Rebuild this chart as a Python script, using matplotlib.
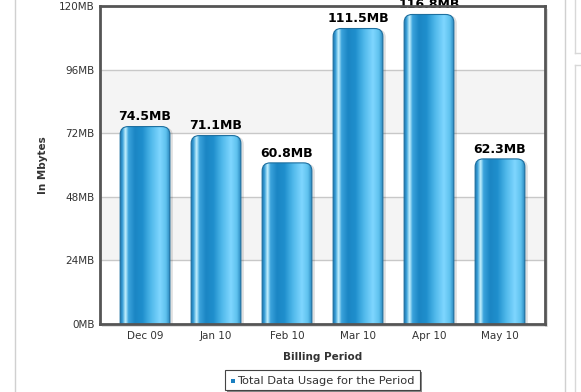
import matplotlib
matplotlib.use("Agg")
import matplotlib.pyplot as plt
import numpy as np
from matplotlib.patches import FancyBboxPatch, Rectangle
from matplotlib.colors import LinearSegmentedColormap
from matplotlib.lines import Line2D

categories = ["Dec 09", "Jan 10", "Feb 10", "Mar 10", "Apr 10", "May 10"]
values = [74.5, 71.1, 60.8, 111.5, 116.8, 62.3]
yticks = [0, 24, 48, 72, 96, 120]
ytick_labels = ["0MB", "24MB", "48MB", "72MB", "96MB", "120MB"]

W, H = 581, 392
fig = plt.figure(figsize=(W / 100, H / 100), dpi=100)
fig.patch.set_facecolor("white")

L, R, T, B = 100, 545, 6, 324
ax = fig.add_axes([L / W, 1 - B / H, (R - L) / W, (B - T) / H])
ax.set_xlim(-0.634, 5.634)
ax.set_ylim(0, 120)

# alternating bands
for i in range(len(yticks) - 1):
    if i % 2 == 1:
        ax.axhspan(yticks[i], yticks[i + 1], color="#f4f4f4", zorder=0, lw=0)
for y in yticks[1:-1]:
    ax.axhline(y, color="#c8c8c8", lw=1, zorder=0.5)

bar_w = 0.70
bars = ax.bar(range(len(categories)), values, width=bar_w, color="none", edgecolor="none", zorder=2)

cmap = LinearSegmentedColormap.from_list("cyl", [
    (0.00, "#1a73ad"), (0.05, "#3aa0d8"), (0.11, "#c6f2ff"), (0.17, "#3ba3dc"),
    (0.30, "#1b86c4"), (0.45, "#1f8fcd"), (0.62, "#4fb8ea"), (0.80, "#7fd6ff"),
    (0.92, "#5fc2ee"), (1.00, "#2a88bf")])
grad = np.linspace(0, 1, 256).reshape(1, -1)

xunit_px = (R - L) / (5.634 + 0.634)
yunit_px = (B - T) / 120.0
aspect = xunit_px / yunit_px
rs = 8 / xunit_px

for rect in bars:
    x0, w, h = rect.get_x(), rect.get_width(), rect.get_height()
    # shadow
    sh = FancyBboxPatch((x0 + 3 / xunit_px, -10), w, h + 10 - 1 / yunit_px,
                        boxstyle=f"round,pad=0,rounding_size={rs}", mutation_aspect=aspect,
                        facecolor="#000000", alpha=0.12, edgecolor="none", zorder=1.5)
    ax.add_patch(sh)
    patch = FancyBboxPatch((x0, -10), w, h + 10,
                           boxstyle=f"round,pad=0,rounding_size={rs}", mutation_aspect=aspect,
                           facecolor="none", edgecolor="#1d6f9f", lw=0.8, zorder=2.5)
    ax.add_patch(patch)
    im = ax.imshow(grad, cmap=cmap, aspect="auto", extent=(x0, x0 + w, 0, h),
                   zorder=2, interpolation="bilinear")
    im.set_clip_path(patch)
    ax.text(rect.get_x() + w / 2, h + 1.2, f"{h:.1f}MB", ha="center", va="bottom",
            fontsize=9, fontweight="bold", color="black", zorder=3, clip_on=False)

ax.set_xlim(-0.634, 5.634)
ax.set_ylim(0, 120)
ax.set_xticks(range(len(categories)))
ax.set_xticklabels(categories, fontsize=7.5, color="#333333")
ax.set_yticks(yticks)
ax.set_yticklabels(ytick_labels, fontsize=7.5, color="#333333")
ax.tick_params(axis="x", length=0, pad=5)
ax.tick_params(axis="y", length=0, pad=4)
for s in ax.spines.values():
    s.set_color("#555555")
    s.set_linewidth(2)
    s.set_zorder(4)
ax.set_xlabel("Billing Period", fontsize=7.5, fontweight="bold", color="#333333")
ax.xaxis.set_label_coords(0.5, -(352 - B) / (B - T) - 0.0)
ax.set_ylabel("In Mbytes", fontsize=7.5, fontweight="bold", color="#333333")
ax.yaxis.set_label_coords(-(L - 48) / (R - L), 0.5)

# frame shadow
fig.add_artist(Rectangle(((L + 2) / W, 1 - (B + 3) / H), (R - L) / W, 3 / H,
                         transform=fig.transFigure, color="#000000", alpha=0.12, lw=0, zorder=0))
fig.add_artist(Rectangle(((R) / W, 1 - (B + 3) / H), 3 / W, (B - T) / H,
                         transform=fig.transFigure, color="#000000", alpha=0.12, lw=0, zorder=0))

# legend box
lx0, ly0, lx1, ly1 = 225, 370, 420, 390
fig.add_artist(Rectangle(((lx0 + 2) / W, 1 - (ly1 + 2) / H), (lx1 - lx0) / W, (ly1 - ly0) / H,
                         transform=fig.transFigure, facecolor="#888888", edgecolor="none"))
fig.add_artist(Rectangle((lx0 / W, 1 - ly1 / H), (lx1 - lx0) / W, (ly1 - ly0) / H,
                         transform=fig.transFigure, facecolor="white", edgecolor="#444444", lw=0.8))
fig.add_artist(Rectangle(((lx0 + 6) / W, 1 - 383 / H), 4 / W, 4 / H,
                         transform=fig.transFigure, facecolor="#1a7fc0", edgecolor="none"))
fig.text((lx0 + 12) / W, 1 - 380.5 / H, "Total Data Usage for the Period", fontsize=8.2,
         color="#333333", va="center", ha="left")

# page decorations
fig.add_artist(Line2D([15 / W, 15 / W], [0, 1], color="#d0d0d0", lw=1))
fig.add_artist(Line2D([565 / W, 565 / W], [0, 1], color="#d0d0d0", lw=1))
fig.add_artist(Line2D([575 / W, 575 / W], [1 - 53 / H, 1], color="#d8d8d8", lw=1))
fig.add_artist(Line2D([575 / W, 581 / W], [1 - 53 / H, 1 - 53 / H], color="#d8d8d8", lw=1))
fig.add_artist(Line2D([575 / W, 575 / W], [0, 1 - 65 / H], color="#d8d8d8", lw=1))
fig.add_artist(Line2D([575 / W, 581 / W], [1 - 65 / H, 1 - 65 / H], color="#d8d8d8", lw=1))

fig.savefig("out.png", dpi=100, facecolor="white")
